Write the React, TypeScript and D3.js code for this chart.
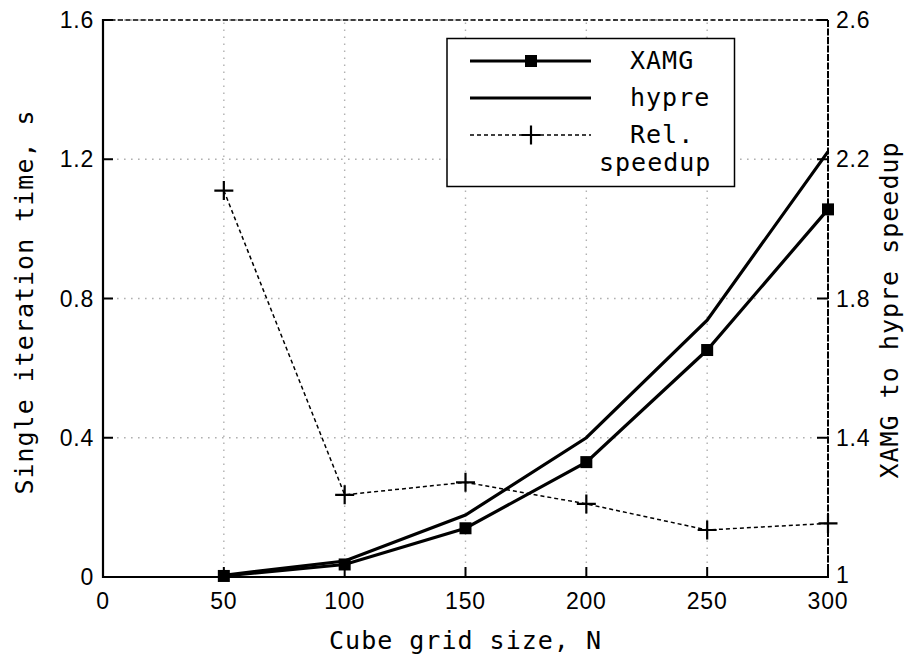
import * as d3 from "d3";

const gridSizes = [50, 100, 150, 200, 250, 300];
const xamgTime = [0.003, 0.036, 0.14, 0.33, 0.652, 1.056];
const hypreTime = [0.005, 0.046, 0.178, 0.4, 0.738, 1.222];
const relSpeedup = [2.11, 1.236, 1.272, 1.21, 1.135, 1.154];

const xTicks = [0, 50, 100, 150, 200, 250, 300];
const yTicks = [0, 0.4, 0.8, 1.2, 1.6];
const y2Ticks = [1, 1.4, 1.8, 2.2, 2.6];
const y2Labels = ["1", "1.4", "1.8", "2.2", "2.6"];

const width = 911;
const height = 655;
const left = 103;
const right = 828;
const top = 20;
const bottom = 577;

const mono = "'DejaVu Sans Mono', monospace";
const sans = "'Liberation Sans', Arial, sans-serif";

export default function App() {
  const x = d3.scaleLinear().domain([0, 300]).range([left, right]);
  const y = d3.scaleLinear().domain([0, 1.6]).range([bottom, top]);
  const y2 = d3.scaleLinear().domain([1, 2.6]).range([bottom, top]);

  const timeLine = d3
    .line<number>()
    .x((_, i) => x(gridSizes[i]))
    .y((d) => y(d));
  const speedLine = d3
    .line<number>()
    .x((_, i) => x(gridSizes[i]))
    .y((d) => y2(d));

  const plus = (cx: number, cy: number, key: string) => (
    <path
      key={key}
      d={`M${cx - 9.5},${cy}H${cx + 9.5}M${cx},${cy - 9.5}V${cy + 9.5}`}
      stroke="#000"
      strokeWidth={2.2}
      fill="none"
    />
  );
  const square = (cx: number, cy: number, key: string) => (
    <rect key={key} x={cx - 6} y={cy - 6} width={12} height={12} fill="#000" />
  );

  // legend layout
  const lgX1 = 470;
  const lgX2 = 591;
  const lgMid = 531;
  const rows = [61, 98, 135];

  return (
    <svg
      width={width}
      height={height}
      style={{ position: "absolute", left: 0, top: 0, background: "#fff" }}
    >
      <rect width={width} height={height} fill="#fff" />

      {/* grid */}
      <g stroke="#b0b0b0" strokeWidth={1.4} strokeDasharray="1.6,5.4">
        {xTicks.slice(1).map((t) => (
          <line key={"gx" + t} x1={x(t)} x2={x(t)} y1={bottom} y2={top} />
        ))}
        {yTicks.slice(1).map((t) => (
          <line key={"gy" + t} x1={left} x2={right} y1={y(t)} y2={y(t)} />
        ))}
      </g>

      {/* frame */}
      <line x1={left} x2={right} y1={top} y2={top} stroke="#000" strokeWidth={1.6} strokeDasharray="5,2.5" />
      <line x1={right} x2={right} y1={top} y2={bottom} stroke="#000" strokeWidth={2} strokeDasharray="7,1.5" />
      <line x1={left} x2={left} y1={top - 1} y2={bottom + 1} stroke="#000" strokeWidth={2.2} />
      <line x1={left - 1} x2={right + 1} y1={bottom} y2={bottom} stroke="#000" strokeWidth={2.2} />

      {/* ticks */}
      <g stroke="#000" strokeWidth={2}>
        {xTicks.slice(1).map((t) => (
          <line key={"tx" + t} x1={x(t)} x2={x(t)} y1={bottom} y2={bottom - 10} />
        ))}
        {yTicks.slice(1).map((t) => (
          <line key={"ty" + t} x1={left} x2={left + 10} y1={y(t)} y2={y(t)} />
        ))}
        {y2Ticks.slice(1).map((t) => (
          <line key={"ty2" + t} x1={right} x2={right - 11} y1={y2(t)} y2={y2(t)} />
        ))}
      </g>

      {/* tick labels */}
      <g fontFamily={sans} fontSize={23} fill="#000" letterSpacing={0.8}>
        {xTicks.map((t) => (
          <text key={"lx" + t} x={x(t)} y={609} textAnchor="middle">
            {t}
          </text>
        ))}
        {yTicks.map((t) => (
          <text key={"ly" + t} x={94} y={y(t) + 8} textAnchor="end">
            {t === 0 ? "0" : t.toFixed(1)}
          </text>
        ))}
        {y2Ticks.map((t, i) => (
          <text key={"ly2" + t} x={836} y={y2(t) + (i === 0 ? 6 : 8)} textAnchor="start">
            {y2Labels[i]}
          </text>
        ))}
      </g>

      {/* axis titles */}
      <g fontFamily={mono} fontSize={25} fill="#000" letterSpacing={1}>
        <text x={(left + right) / 2} y={649} textAnchor="middle">
          Cube grid size, N
        </text>
        <text transform="translate(33,302) rotate(-90)" textAnchor="middle">
          Single iteration time, s
        </text>
        <text transform="translate(898,310) rotate(-90)" textAnchor="middle">
          XAMG to hypre speedup
        </text>
      </g>

      {/* series */}
      <path d={timeLine(hypreTime) ?? ""} fill="none" stroke="#000" strokeWidth={3.2} />
      <path d={timeLine(xamgTime) ?? ""} fill="none" stroke="#000" strokeWidth={3.2} />
      {xamgTime.map((v, i) => square(x(gridSizes[i]), y(v), "sq" + i))}
      <path
        d={speedLine(relSpeedup) ?? ""}
        fill="none"
        stroke="#000"
        strokeWidth={1.5}
        strokeDasharray="4,3"
      />
      {relSpeedup.map((v, i) => plus(x(gridSizes[i]), y2(v), "pl" + i))}

      {/* legend */}
      <rect x={447} y={38.5} width={287.5} height={148} fill="#fff" stroke="#000" strokeWidth={1.5} />
      <line x1={lgX1} x2={lgX2} y1={rows[0]} y2={rows[0]} stroke="#000" strokeWidth={3.2} />
      {square(lgMid, rows[0], "lgsq")}
      <line x1={lgX1} x2={lgX2} y1={rows[1]} y2={rows[1]} stroke="#000" strokeWidth={3.2} />
      <line
        x1={lgX1}
        x2={lgX2}
        y1={rows[2]}
        y2={rows[2]}
        stroke="#000"
        strokeWidth={1.5}
        strokeDasharray="4,3"
      />
      {plus(lgMid, rows[2], "lgpl")}
      <g fontFamily={mono} fontSize={25} fill="#000" letterSpacing={1}>
        <text x={630} y={69}>XAMG</text>
        <text x={630} y={106}>hypre</text>
        <text x={630} y={143}>Rel.</text>
        <text x={599} y={171}>speedup</text>
      </g>
    </svg>
  );
}
